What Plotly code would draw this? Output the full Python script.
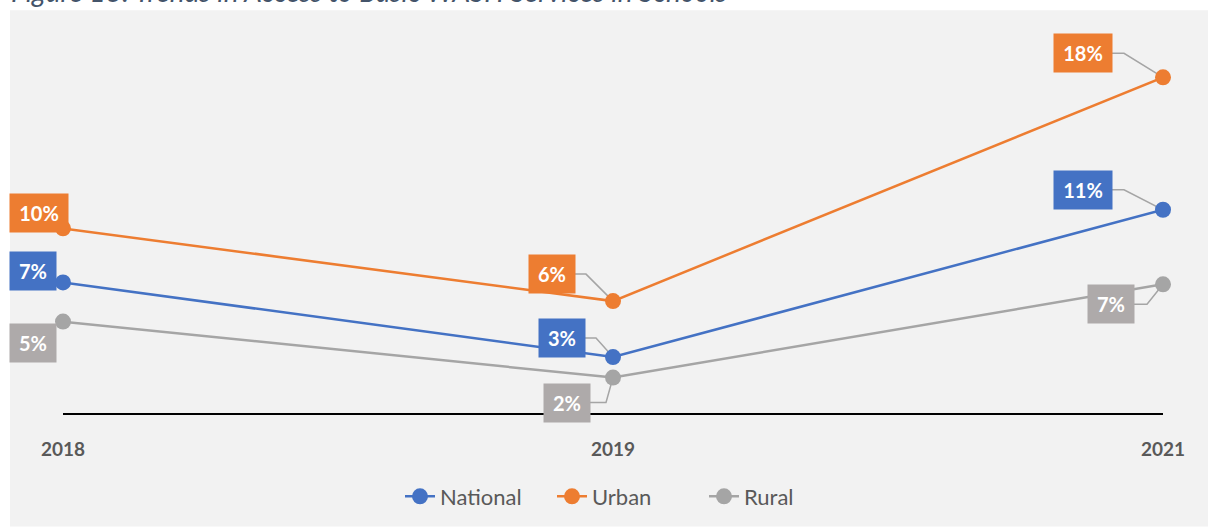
import plotly.graph_objects as go

# ---------------- data ----------------
years = ["2018", "2019", "2021"]
national = [7.0, 3.0, 10.9]
urban = [9.9, 6.0, 18.0]
rural = [4.9, 1.9, 6.9]
series_names = ["National", "Urban", "Rural"]
title_text = "Figure 13: Trends in Access to Basic WASH Services in Schools"

# ---------------- style ----------------
line_colors = {"National": "#4472c4", "Urban": "#ed7d31", "Rural": "#a5a5a5"}
box_colors = {"National": "#4472c4", "Urban": "#ed7d31", "Rural": "#aeaaaa"}
# label offsets in px: (dx, dy_up, leader_box_edge_dx, leader_elbow_dx) ; None = no leader
label_layout = {
    "National": [(-30, 11, None, None), (-51, 19, -28, -17), (-80, 20, -51, -39)],
    "Urban": [(-24, 15, None, None), (-61, 27, -38, -27), (-80, 24, -51, -39)],
    "Rural": [(-30, -21, None, None), (-46, -25, -23, -7), (-52, -20, -29, -16)],
}
FONT = "Lato, 'Open Sans', sans-serif"

W, H = 1208, 529
L, R, T, B = 63, 45, 40, 114
PW, PH = W - L - R, H - T - B

values = {"National": national, "Urban": urban, "Rural": rural}

fig = go.Figure()
for name in series_names:
    fig.add_trace(go.Scatter(
        x=years, y=values[name], name=name, mode="lines+markers",
        line=dict(color=line_colors[name], width=2.5),
        marker=dict(size=16, color=line_colors[name]),
        cliponaxis=False,
    ))

annotations = []
shapes = []
# gray panel background
shapes.append(dict(type="rect", xref="paper", yref="paper",
                   x0=(10 - L) / PW, x1=(W - L) / PW,
                   y0=-(H - T - PH) / PH, y1=(T + PH - 10) / PH,
                   fillcolor="#f2f2f2", line=dict(width=0), layer="below"))

for name in series_names:
    for i, yr in enumerate(years):
        v = values[name][i]
        dx, dy, be, el = label_layout[name][i]
        txt = f"{round(v)}%"
        annotations.append(dict(
            x=i, y=v, xref="x", yref="y", text=f"<b>{txt}</b>", showarrow=False,
            xanchor="center", yanchor="middle", xshift=dx, yshift=dy,
            font=dict(family=FONT, size=20, color="white"),
            bgcolor=box_colors[name], width=40 if len(txt) == 2 else 52, height=32,
            borderpad=3,
        ))
        if be is not None:
            shapes.append(dict(
                type="path", xref="x", yref="y", xsizemode="pixel", ysizemode="pixel",
                xanchor=i, yanchor=v,
                path=f"M {be},{dy} L {el},{dy} L 0,0",
                line=dict(color="#a5a5a5", width=1.5), layer="below",
            ))

annotations.append(dict(
    text=f"<i>{title_text}</i>", xref="paper", yref="paper",
    x=(9 - L) / PW, y=(T + PH - 10) / PH, xanchor="left", yanchor="bottom",
    showarrow=False, font=dict(family=FONT, size=28, color="#44546a"),
))

fig.update_layout(
    width=W, height=H,
    margin=dict(l=L, r=R, t=T, b=B, pad=0),
    paper_bgcolor="white", plot_bgcolor="#f2f2f2",
    showlegend=True,
    legend=dict(orientation="h", x=(400 - L) / PW, xanchor="left",
                y=-(499 - T - PH) / PH, yanchor="middle",
                entrywidth=107, entrywidthmode="pixels",
                font=dict(family=FONT, size=22, color="#595959"),
                bgcolor="rgba(0,0,0,0)"),
    xaxis=dict(type="category", range=[0, 2], showgrid=False, zeroline=False,
               showline=True, linecolor="black", linewidth=2,
               ticks="outside", ticklen=18, tickcolor="rgba(0,0,0,0)",
               tickfont=dict(family=FONT, size=19, color="#595959", weight="bold")),
    yaxis=dict(range=[0, 20], showgrid=False, zeroline=False, showticklabels=False,
               showline=False),
    annotations=annotations, shapes=shapes,
)

fig.write_html("out.html", config={"displayModeBar": False},
               post_script="document.body.style.margin='0px';")
